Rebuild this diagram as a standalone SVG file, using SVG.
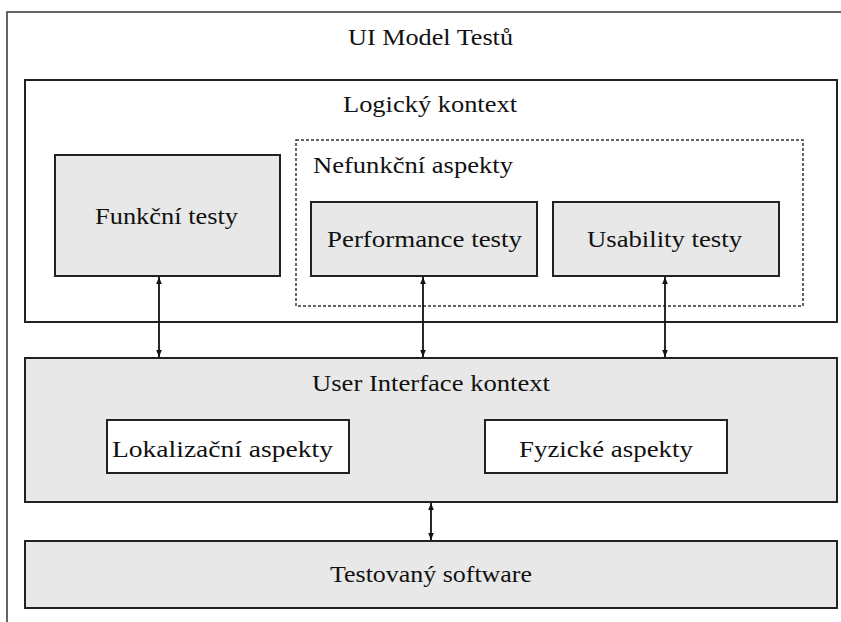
<svg xmlns="http://www.w3.org/2000/svg" width="841" height="622" viewBox="0 0 841 622">
<defs>
<style>
.box{stroke:#222;stroke-width:2;}
.g{fill:#e8e8e8;}
.w{fill:#fff;}
text{font-size:23px;fill:#111;}
.c{stroke:#111;stroke-width:1.8;fill:none;marker-start:url(#ah);marker-end:url(#ah);}
</style>
<marker id="ah" viewBox="0 0 10 10" refX="10" refY="5" markerWidth="4" markerHeight="5" orient="auto-start-reverse" markerUnits="strokeWidth">
<path d="M0,1 L10,5 L0,9 z" fill="#111"/>
</marker>
</defs>
<rect width="841" height="622" fill="#fff"/>
<g font-family="'Liberation Serif', 'Times New Roman', Tinos, 'DejaVu Serif', serif">
<g id="outer">
<rect x="7" y="12" width="900" height="700" fill="#fff" stroke="#333" stroke-width="1.5"/>
<text x="348" y="45" textLength="165" lengthAdjust="spacingAndGlyphs">UI Model Testů</text>
</g>
<g id="logicky">
<rect class="box w" x="25" y="80" width="812" height="242"/>
<text x="343" y="112" textLength="174" lengthAdjust="spacingAndGlyphs">Logický kontext</text>
</g>
<g id="nefunkcni">
<rect x="296" y="140" width="507" height="166" fill="none" stroke="#333" stroke-width="1.5" stroke-dasharray="3,2"/>
<text x="313" y="173" textLength="200" lengthAdjust="spacingAndGlyphs">Nefunkční aspekty</text>
</g>
<g id="funkcni">
<rect class="box g" x="55" y="155" width="225" height="121"/>
<text x="95" y="224" textLength="143" lengthAdjust="spacingAndGlyphs">Funkční testy</text>
</g>
<g id="performance">
<rect class="box g" x="311" y="202" width="226" height="74"/>
<text x="327" y="247" textLength="195" lengthAdjust="spacingAndGlyphs">Performance testy</text>
</g>
<g id="usability">
<rect class="box g" x="553" y="202" width="226" height="74"/>
<text x="587" y="247" textLength="155" lengthAdjust="spacingAndGlyphs">Usability testy</text>
</g>
<g id="ui">
<rect class="box g" x="25" y="358" width="812" height="144"/>
<text x="312" y="391" textLength="238" lengthAdjust="spacingAndGlyphs">User Interface kontext</text>
</g>
<g id="lokalizacni">
<rect class="box w" x="107" y="420" width="242" height="53"/>
<text x="112" y="457" textLength="221" lengthAdjust="spacingAndGlyphs">Lokalizační aspekty</text>
</g>
<g id="fyzicke">
<rect class="box w" x="485" y="420" width="242" height="53"/>
<text x="519" y="457" textLength="174" lengthAdjust="spacingAndGlyphs">Fyzické aspekty</text>
</g>
<g id="software">
<rect class="box g" x="25" y="541" width="812" height="67"/>
<text x="330" y="582" textLength="202" lengthAdjust="spacingAndGlyphs">Testovaný software</text>
</g>
</g>
<g id="connectors">
<line class="c" x1="159" y1="277" x2="159" y2="357"/>
<line class="c" x1="423" y1="277" x2="423" y2="357"/>
<line class="c" x1="665" y1="277" x2="665" y2="357"/>
<line class="c" x1="431" y1="503" x2="431" y2="540"/>
</g>
</svg>
